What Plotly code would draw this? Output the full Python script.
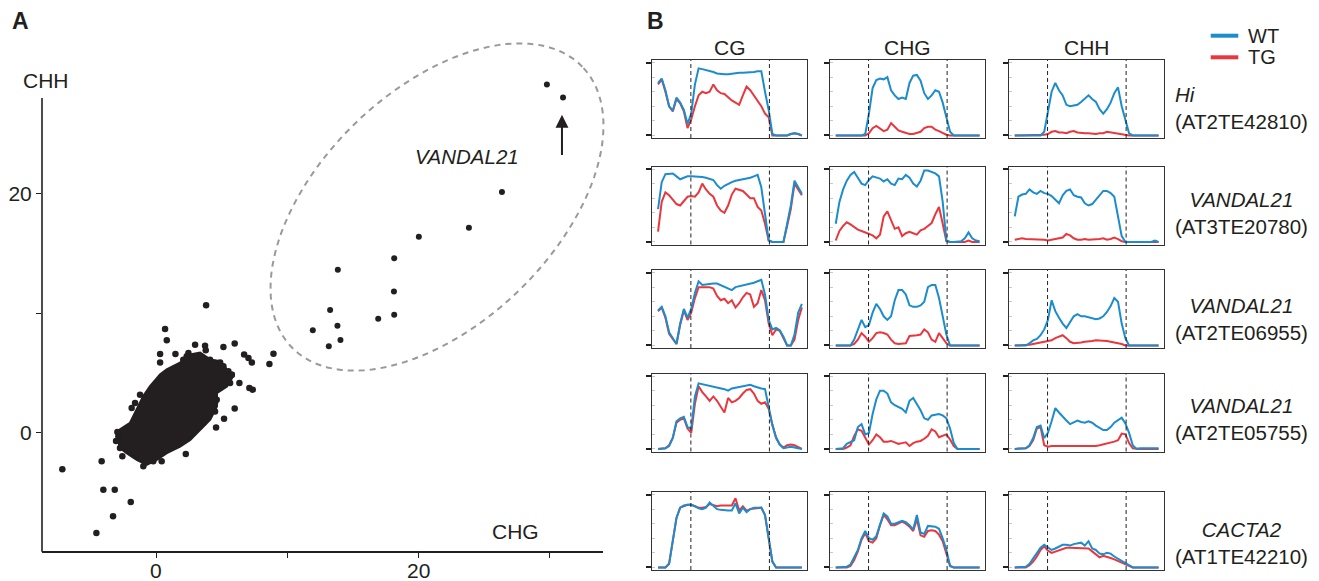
import numpy as np
import plotly.graph_objects as go

W, H = 1319, 581
FONT = "Liberation Sans, Arial, Helvetica, sans-serif"
INK = "#231f20"
BLUE = "#1c8ccc"
RED = "#e8373d"

# ---------------- Panel A data (CHG vs CHH) ----------------
# outline of the dense, saturated cloud of TEs
BLOB_X = [-3.00, -2.75, -1.98, -1.47, -0.97, -0.46, 0.31, 0.82, 1.83, 2.60, 3.36, 4.12, 4.89,
          5.40, 5.78, 5.40, 4.63, 4.63, 4.12, 3.36, 2.60, 1.83, 0.82, 0.05, -0.71, -1.47,
          -2.24, -2.88]
BLOB_Y = [-0.31, 0.25, 0.81, 1.92, 3.04, 3.87, 4.85, 5.27, 5.83, 6.53, 6.67, 6.11, 5.97,
          5.27, 4.58, 3.87, 3.32, 2.20, 1.09, 0.25, -0.59, -1.15, -1.70, -2.26, -2.68, -2.26,
          -1.70, -1.15]
# individual TEs around the cloud
CLOUD_X = [3.82, 0.69, 0.82, 0.31, 0.31, 1.48, 3.74, 3.79, 5.14, 6.00, 6.72, 7.05, 7.31, 8.96,
           8.65, 6.36, 7.12, 7.38, 6.00, 5.19, 4.58, 2.27, -4.15, -7.15, -4.02, -3.15, -1.93,
           -3.28, -4.55, -1.86, -1.60, -1.22, -2.87, -2.75, -2.57, -0.97, -0.21, 0.43, 4.63,
           4.50, 5.14, 5.78, 5.65, 2.98, 2.08, 2.34, 2.47, 4.12, 4.50, 4.89, 5.14, 5.52, 5.78,
           4.38, 4.50, 4.25, 3.99, 3.61, 3.36, -3.05, -2.95]
CLOUD_Y = [10.65, 8.68, 7.73, 6.59, 5.88, 6.59, 7.28, 6.89, 7.17, 7.45, 6.53, 6.25, 5.88, 6.61,
           5.75, 4.16, 3.74, 3.60, 2.03, 1.17, 0.44, -1.78, -2.40, -3.07, -4.77, -4.77, -5.80,
           -7.00, -8.40, 2.07, 2.49, 3.18, -0.31, -1.28, -1.98, -2.82, -2.40, -2.40, 2.76,
           1.78, 5.13, 4.85, 4.16, 7.36, 6.11, 6.39, 6.67, 6.11, 5.83, 5.88, 5.55, 5.13, 4.85,
           3.04, 2.49, 1.92, 1.36, 0.81, 0.53, -0.70, 0.05]
# VANDAL21 copies
VANDAL_X = [29.82, 31.05, 26.39, 23.87, 20.05, 18.17, 13.87, 18.15, 18.17, 16.95, 13.28,
            13.84, 11.96, 14.07, 13.18]
VANDAL_Y = [29.12, 28.03, 20.14, 17.15, 16.40, 14.59, 13.62, 11.80, 9.87, 9.54, 10.27,
            8.95, 8.56, 7.76, 7.22]
A_XTICKS = [0, 10, 20, 30]
A_XTICKTEXT = ["0", "", "20", ""]
A_YTICKS = [0, 10, 20]
A_YTICKTEXT = ["0", "", "20"]

# ---------------- Panel B data (metaplots, 40 bins) ----------------
BINS = [0, 1, 2, 3, 4, 5, 6, 7, 8, 9, 10, 11, 12, 13, 14, 15, 16, 17, 18, 19,
        20, 21, 22, 23, 24, 25, 26, 27, 28, 29, 30, 31, 32, 33, 34, 35, 36, 37, 38, 39]
TE_START, TE_END = 8.9, 30.2
CONTEXTS = ["CG", "CHG", "CHH"]
TE_NAMES = ["Hi", "VANDAL21", "VANDAL21", "VANDAL21", "CACTA2"]
TE_IDS = ["AT2TE42810", "AT3TE20780", "AT2TE06955", "AT2TE05755", "AT1TE42210"]

WT_HI_CG = [0.72, 0.78, 0.62, 0.40, 0.34, 0.52, 0.45, 0.35, 0.16, 0.30, 0.70, 0.92, 0.91, 0.90, 0.88, 0.87, 0.85, 0.84, 0.84, 0.84,
            0.85, 0.85, 0.86, 0.86, 0.86, 0.86, 0.87, 0.88, 0.88, 0.60, 0.35, 0.02, 0, 0, 0, 0, 0.02, 0.03, 0.02, 0]
TG_HI_CG = [0.70, 0.77, 0.60, 0.40, 0.33, 0.50, 0.44, 0.33, 0.10, 0.22, 0.40, 0.55, 0.60, 0.58, 0.60, 0.70, 0.62, 0.58, 0.57, 0.52,
            0.48, 0.45, 0.42, 0.55, 0.67, 0.62, 0.55, 0.48, 0.40, 0.30, 0.25, 0, 0, 0, 0, 0, 0.02, 0.03, 0.02, 0]
WT_HI_CHG = [0, 0, 0, 0, 0, 0, 0, 0, 0.02, 0.30, 0.65, 0.76, 0.78, 0.77, 0.80, 0.62, 0.55, 0.50, 0.52, 0.50,
             0.72, 0.82, 0.83, 0.75, 0.58, 0.50, 0.55, 0.62, 0.60, 0.45, 0.25, 0.05, 0, 0, 0, 0, 0, 0, 0, 0]
TG_HI_CHG = [0, 0, 0, 0, 0, 0, 0, 0, 0, 0.03, 0.10, 0.13, 0.10, 0.06, 0.08, 0.17, 0.12, 0.07, 0.05, 0.03,
             0.02, 0.02, 0.03, 0.05, 0.10, 0.12, 0.12, 0.08, 0.06, 0.03, 0.01, 0, 0, 0, 0, 0, 0, 0, 0, 0]
WT_HI_CHH = [0, 0, 0, 0, 0, 0, 0, 0, 0.05, 0.30, 0.60, 0.72, 0.62, 0.55, 0.42, 0.40, 0.41, 0.42, 0.46, 0.50,
             0.55, 0.50, 0.46, 0.36, 0.30, 0.36, 0.45, 0.58, 0.66, 0.40, 0.22, 0.03, 0, 0, 0, 0, 0, 0, 0, 0]
TG_HI_CHH = [0, 0, 0, 0, 0, 0, 0, 0, 0.01, 0.02, 0.05, 0.06, 0.04, 0.04, 0.03, 0.05, 0.06, 0.04, 0.03, 0.03,
             0.03, 0.02, 0.02, 0.03, 0.03, 0.05, 0.04, 0.03, 0.02, 0.01, 0, 0, 0, 0, 0, 0, 0, 0, 0, 0]

WT_V1_CG = [0.45, 0.82, 0.93, 0.94, 0.94, 0.90, 0.86, 0.88, 0.90, 0.90, 0.90, 0.90, 0.89, 0.88, 0.87, 0.85, 0.78, 0.73, 0.77, 0.80,
            0.82, 0.84, 0.85, 0.86, 0.87, 0.88, 0.90, 0.92, 0.75, 0.35, 0.02, 0, 0, 0, 0, 0.25, 0.50, 0.84, 0.74, 0.66]
TG_V1_CG = [0.14, 0.55, 0.68, 0.64, 0.58, 0.52, 0.50, 0.56, 0.62, 0.63, 0.62, 0.68, 0.80, 0.72, 0.66, 0.62, 0.50, 0.43, 0.40, 0.50,
            0.65, 0.73, 0.72, 0.70, 0.65, 0.60, 0.60, 0.48, 0.43, 0.25, 0.02, 0, 0, 0, 0, 0.22, 0.45, 0.80, 0.72, 0.64]
WT_V1_CHG = [0.25, 0.55, 0.72, 0.84, 0.92, 0.96, 0.88, 0.80, 0.78, 0.85, 0.90, 0.89, 0.87, 0.83, 0.86, 0.80, 0.78, 0.87, 0.86, 0.92,
             0.88, 0.80, 0.76, 0.84, 0.98, 0.98, 0.96, 0.94, 0.90, 0.55, 0.02, 0, 0, 0, 0.01, 0.05, 0.13, 0.05, 0.02, 0.01]
TG_V1_CHG = [0.02, 0.15, 0.22, 0.27, 0.24, 0.20, 0.17, 0.15, 0.13, 0.12, 0.09, 0.05, 0.10, 0.35, 0.42, 0.30, 0.18, 0.20, 0.08, 0.12,
             0.14, 0.12, 0.10, 0.16, 0.18, 0.22, 0.26, 0.38, 0.48, 0.25, 0.01, 0, 0, 0, 0, 0, 0.02, 0, 0, 0]
WT_V1_CHH = [0.35, 0.62, 0.65, 0.66, 0.72, 0.68, 0.66, 0.70, 0.67, 0.66, 0.63, 0.58, 0.53, 0.64, 0.70, 0.72, 0.64, 0.62, 0.61, 0.53,
             0.50, 0.52, 0.58, 0.63, 0.70, 0.70, 0.67, 0.62, 0.35, 0.08, 0, 0, 0, 0, 0, 0, 0, 0, 0.02, 0]
TG_V1_CHH = [0.03, 0.04, 0.05, 0.04, 0.04, 0.03, 0.03, 0.03, 0.03, 0.02, 0.03, 0.03, 0.04, 0.06, 0.11, 0.09, 0.05, 0.03, 0.03, 0.04,
             0.03, 0.03, 0.04, 0.04, 0.05, 0.03, 0.04, 0.06, 0.04, 0.01, 0, 0, 0, 0, 0, 0, 0, 0, 0, 0]

WT_V2_CG = [0.48, 0.53, 0.40, 0.18, 0.10, 0.02, 0.30, 0.50, 0.38, 0.50, 0.72, 0.88, 0.83, 0.84, 0.84, 0.85, 0.85, 0.83, 0.81, 0.78,
            0.76, 0.80, 0.81, 0.82, 0.83, 0.84, 0.86, 0.88, 0.90, 0.70, 0.35, 0.22, 0.24, 0.21, 0.12, 0, 0, 0.15, 0.45, 0.57]
TG_V2_CG = [0.47, 0.52, 0.38, 0.16, 0.09, 0.02, 0.28, 0.48, 0.35, 0.45, 0.65, 0.80, 0.80, 0.80, 0.80, 0.78, 0.68, 0.62, 0.64, 0.58,
            0.62, 0.52, 0.58, 0.66, 0.72, 0.70, 0.53, 0.58, 0.76, 0.62, 0.30, 0.14, 0.22, 0.20, 0.10, 0, 0, 0.08, 0.35, 0.52]
WT_V2_CHG = [0, 0, 0, 0, 0, 0.08, 0.22, 0.35, 0.25, 0.28, 0.45, 0.57, 0.50, 0.40, 0.35, 0.40, 0.62, 0.76, 0.76, 0.70,
             0.55, 0.53, 0.53, 0.55, 0.60, 0.80, 0.83, 0.83, 0.65, 0.42, 0.15, 0, 0, 0, 0, 0, 0, 0, 0, 0]
TG_V2_CHG = [0, 0, 0, 0, 0, 0.02, 0.08, 0.17, 0.12, 0.05, 0.10, 0.17, 0.18, 0.17, 0.15, 0.08, 0.03, 0.02, 0.02, 0.03,
             0.13, 0.13, 0.14, 0.15, 0.22, 0.18, 0.08, 0.05, 0.17, 0.10, 0.03, 0, 0, 0, 0, 0, 0, 0, 0, 0]
WT_V2_CHH = [0, 0, 0, 0, 0.03, 0.07, 0.09, 0.14, 0.22, 0.35, 0.62, 0.47, 0.38, 0.30, 0.24, 0.32, 0.40, 0.43, 0.40, 0.40,
             0.39, 0.38, 0.36, 0.37, 0.40, 0.46, 0.54, 0.65, 0.60, 0.30, 0.10, 0, 0, 0, 0, 0, 0, 0, 0, 0]
TG_V2_CHH = [0, 0, 0, 0, 0.01, 0.02, 0.03, 0.04, 0.05, 0.06, 0.07, 0.10, 0.12, 0.14, 0.10, 0.05, 0.03, 0.03, 0.04, 0.05,
             0.05, 0.06, 0.07, 0.07, 0.06, 0.06, 0.05, 0.04, 0.04, 0.02, 0, 0, 0, 0, 0, 0, 0, 0, 0, 0]

WT_V3_CG = [0, 0, 0.01, 0.04, 0.15, 0.38, 0.42, 0.44, 0.30, 0.28, 0.72, 0.90, 0.89, 0.88, 0.87, 0.86, 0.85, 0.83, 0.82, 0.80,
            0.83, 0.84, 0.85, 0.86, 0.87, 0.88, 0.86, 0.84, 0.83, 0.82, 0.55, 0.33, 0.15, 0.06, 0.01, 0.02, 0.03, 0.02, 0.01, 0]
TG_V3_CG = [0, 0, 0.01, 0.05, 0.15, 0.36, 0.40, 0.42, 0.28, 0.22, 0.62, 0.86, 0.78, 0.72, 0.66, 0.72, 0.66, 0.58, 0.50, 0.70,
            0.64, 0.66, 0.70, 0.76, 0.81, 0.82, 0.76, 0.66, 0.62, 0.64, 0.55, 0.33, 0.16, 0.06, 0.02, 0.05, 0.06, 0.05, 0.02, 0]
WT_V3_CHG = [0, 0, 0.01, 0.07, 0.10, 0.12, 0.30, 0.34, 0.20, 0.22, 0.48, 0.68, 0.80, 0.80, 0.76, 0.64, 0.60, 0.57, 0.55, 0.50,
             0.66, 0.70, 0.62, 0.53, 0.42, 0.40, 0.46, 0.47, 0.48, 0.46, 0.42, 0.28, 0.08, 0, 0, 0, 0, 0, 0, 0]
TG_V3_CHG = [0, 0, 0, 0.02, 0.05, 0.18, 0.27, 0.25, 0.15, 0.06, 0.12, 0.20, 0.16, 0.10, 0.10, 0.11, 0.09, 0.07, 0.08, 0.09,
             0.04, 0.08, 0.10, 0.11, 0.14, 0.18, 0.27, 0.24, 0.16, 0.18, 0.20, 0.13, 0.04, 0, 0, 0, 0, 0, 0, 0]
WT_V3_CHH = [0, 0, 0, 0.01, 0.05, 0.15, 0.30, 0.32, 0.15, 0.22, 0.38, 0.56, 0.50, 0.44, 0.39, 0.34, 0.37, 0.39, 0.37, 0.36,
             0.38, 0.36, 0.32, 0.29, 0.26, 0.26, 0.30, 0.36, 0.40, 0.43, 0.35, 0.22, 0.05, 0, 0.01, 0.01, 0.01, 0.01, 0.01, 0.01]
TG_V3_CHH = [0, 0, 0, 0.01, 0.04, 0.12, 0.28, 0.30, 0.05, 0.03, 0.04, 0.04, 0.04, 0.04, 0.04, 0.03, 0.03, 0.03, 0.03, 0.03,
             0.04, 0.04, 0.04, 0.05, 0.06, 0.07, 0.09, 0.10, 0.12, 0.21, 0.20, 0.08, 0.01, 0, 0, 0, 0, 0, 0, 0]

WT_CA_CG = [0, 0, 0, 0.05, 0.35, 0.68, 0.82, 0.85, 0.86, 0.86, 0.84, 0.81, 0.80, 0.82, 0.89, 0.84, 0.80, 0.79, 0.78, 0.78,
            0.78, 0.88, 0.74, 0.82, 0.76, 0.80, 0.82, 0.82, 0.82, 0.72, 0.43, 0.08, 0, 0, 0, 0, 0, 0, 0, 0]
TG_CA_CG = [0, 0, 0, 0.05, 0.35, 0.68, 0.82, 0.84, 0.86, 0.86, 0.84, 0.82, 0.82, 0.83, 0.87, 0.85, 0.84, 0.85, 0.85, 0.86,
            0.85, 0.95, 0.78, 0.84, 0.78, 0.80, 0.81, 0.82, 0.82, 0.72, 0.43, 0.08, 0, 0, 0, 0, 0, 0, 0, 0]
WT_CA_CHG = [0, 0, 0, 0.01, 0.04, 0.13, 0.24, 0.40, 0.50, 0.40, 0.38, 0.43, 0.60, 0.74, 0.70, 0.60, 0.60, 0.62, 0.64, 0.62,
             0.58, 0.52, 0.72, 0.48, 0.46, 0.57, 0.57, 0.56, 0.53, 0.40, 0.24, 0.02, 0, 0, 0, 0, 0, 0, 0, 0]
TG_CA_CHG = [0, 0, 0, 0, 0.02, 0.10, 0.22, 0.38, 0.47, 0.36, 0.34, 0.40, 0.58, 0.72, 0.66, 0.58, 0.58, 0.61, 0.63, 0.60,
             0.56, 0.50, 0.66, 0.44, 0.42, 0.50, 0.51, 0.50, 0.45, 0.36, 0.20, 0.02, 0, 0, 0, 0, 0, 0, 0, 0]
WT_CA_CHH = [0, 0, 0, 0.01, 0.05, 0.12, 0.19, 0.27, 0.31, 0.28, 0.24, 0.26, 0.28, 0.31, 0.31, 0.30, 0.32, 0.33, 0.34, 0.30,
             0.36, 0.26, 0.24, 0.19, 0.18, 0.20, 0.19, 0.15, 0.12, 0.09, 0.06, 0.02, 0, 0, 0, 0, 0, 0, 0, 0]
TG_CA_CHH = [0, 0, 0, 0, 0.03, 0.08, 0.15, 0.24, 0.29, 0.23, 0.20, 0.22, 0.24, 0.26, 0.27, 0.27, 0.27, 0.26, 0.27, 0.26,
             0.26, 0.22, 0.18, 0.14, 0.16, 0.15, 0.13, 0.11, 0.09, 0.07, 0.05, 0.02, 0, 0, 0, 0, 0, 0, 0, 0]

WT_ROWS = [[WT_HI_CG, WT_HI_CHG, WT_HI_CHH], [WT_V1_CG, WT_V1_CHG, WT_V1_CHH],
           [WT_V2_CG, WT_V2_CHG, WT_V2_CHH], [WT_V3_CG, WT_V3_CHG, WT_V3_CHH],
           [WT_CA_CG, WT_CA_CHG, WT_CA_CHH]]
TG_ROWS = [[TG_HI_CG, TG_HI_CHG, TG_HI_CHH], [TG_V1_CG, TG_V1_CHG, TG_V1_CHH],
           [TG_V2_CG, TG_V2_CHG, TG_V2_CHH], [TG_V3_CG, TG_V3_CHG, TG_V3_CHH],
           [TG_CA_CG, TG_CA_CHG, TG_CA_CHH]]

# ---------------- layout geometry (pixels) ----------------
A_LEFT, A_RIGHT, A_LINE_TOP, A_BOTTOM = 42, 603, 98, 551
A_PLOT_TOP = 70                      # plot area reaches above the axis line
A_XLABEL_Y = 570
A_XRANGE = [-8.7, 34.1]
A_YRANGE = [-9.9, 30.34]
B_COL_LEFT = [652.3, 830, 1009]
B_W = 155
B_ROW_TOP = [60, 166.5, 270, 373.5, 492]
B_H = 78
B_XRANGE = [-1.555, 40.47]
B_YRANGE = [-0.035, 1.035]
ROW_LABEL_X = 1241
ROW_LABEL_Y = [107.5, 213, 319, 419, 543]


def fx(p):
    return p / W


def fy(p):
    return 1 - p / H


def txt(x, y, text, size=21, xanchor="center", yanchor="middle", align="center"):
    return dict(x=fx(x), y=fy(y), xref="paper", yref="paper", text=text, showarrow=False,
                xanchor=xanchor, yanchor=yanchor, align=align,
                font=dict(size=size, color=INK, family=FONT))


fig = go.Figure()
layout = {}

# ---------------- Panel A ----------------
fig.add_trace(go.Scatter(x=BLOB_X, y=BLOB_Y, mode="lines", fill="toself", fillcolor=INK,
                         line=dict(color=INK, width=2.5), hoverinfo="skip",
                         showlegend=False, xaxis="x", yaxis="y"))
fig.add_trace(go.Scatter(x=CLOUD_X, y=CLOUD_Y, mode="markers",
                         marker=dict(size=6.5, color=INK, line=dict(width=0)),
                         showlegend=False, xaxis="x", yaxis="y"))
fig.add_trace(go.Scatter(x=VANDAL_X, y=VANDAL_Y, mode="markers",
                         marker=dict(size=6, color=INK, line=dict(width=0)),
                         showlegend=False, xaxis="x", yaxis="y"))

layout["xaxis"] = dict(domain=[fx(A_LEFT), fx(A_RIGHT)], range=A_XRANGE, anchor="y",
                       showline=True, linecolor=INK, linewidth=1.6, ticks="outside",
                       ticklen=5, tickwidth=1.4, tickcolor=INK, tickvals=A_XTICKS,
                       showticklabels=False,
                       showgrid=False, zeroline=False, automargin=False)
layout["yaxis"] = dict(domain=[fy(A_BOTTOM), fy(A_PLOT_TOP)], range=A_YRANGE, anchor="x",
                       showline=False, ticks="outside",
                       ticklen=5, tickwidth=1.4, tickcolor=INK, tickvals=A_YTICKS,
                       ticktext=A_YTICKTEXT, tickfont=dict(size=21, color=INK, family=FONT),
                       showgrid=False, zeroline=False, automargin=False)

shapes = []
annotations = []

# x tick labels of panel A (placed just under the axis)
for v, lab in zip(A_XTICKS, A_XTICKTEXT):
    if lab:
        annotations.append(dict(x=v, y=fy(A_XLABEL_Y), xref="x", yref="paper", text=lab,
                                showarrow=False, xanchor="center", yanchor="middle",
                                font=dict(size=21, color=INK, family=FONT)))

# left axis line of panel A (stops below the top VANDAL21 points)
shapes.append(dict(type="line", xref="paper", yref="paper", x0=fx(A_LEFT), x1=fx(A_LEFT),
                   y0=fy(A_BOTTOM + 0.8), y1=fy(A_LINE_TOP), line=dict(color=INK, width=1.6)))

# dashed ellipse around VANDAL21 points (pixel geometry)
cx, cy, ea, eb, phi = 437, 207, 202, 117, np.deg2rad(44)
t = np.linspace(0, 2 * np.pi, 120)
ex = cx + ea * np.cos(t) * np.cos(phi) - eb * np.sin(t) * np.sin(phi)
ey = cy - (ea * np.cos(t) * np.sin(phi) + eb * np.sin(t) * np.cos(phi))
path = "M " + " L ".join(f"{fx(a):.5f},{fy(b):.5f}" for a, b in zip(ex, ey)) + " Z"
shapes.append(dict(type="path", path=path, xref="paper", yref="paper",
                   line=dict(color="#9a9a9a", width=2, dash="6px,5px")))

annotations.append(dict(x=30.97, y=26.6, ax=30.97, ay=23.1, xref="x", yref="y",
                        axref="x", ayref="y", text="", showarrow=True, arrowhead=2,
                        arrowsize=1.3, arrowwidth=2, arrowcolor=INK))
annotations.append(dict(x=23.72, y=23.12, xref="x", yref="y", text="<i>VANDAL21</i>",
                        xanchor="center", yanchor="middle", showarrow=False,
                        font=dict(size=20.5, color=INK, family=FONT)))
annotations.append(txt(46, 80, "CHH"))
annotations.append(txt(515, 531, "CHG"))
annotations.append(txt(20, 21, "<b>A</b>", size=23))
annotations.append(txt(655, 21, "<b>B</b>", size=23))

# ---------------- Panel B ----------------
for r in range(5):
    for c in range(3):
        k = 2 + r * 3 + c
        xa, ya = f"x{k}", f"y{k}"
        fig.add_trace(go.Scatter(x=BINS, y=TG_ROWS[r][c], mode="lines",
                                 line=dict(color=RED, width=2), showlegend=False,
                                 xaxis=xa, yaxis=ya))
        fig.add_trace(go.Scatter(x=BINS, y=WT_ROWS[r][c], mode="lines",
                                 line=dict(color=BLUE, width=2), showlegend=False,
                                 xaxis=xa, yaxis=ya))
        left = B_COL_LEFT[c]
        top = B_ROW_TOP[r]
        layout[f"xaxis{k}"] = dict(domain=[fx(left), fx(left + B_W)], range=B_XRANGE,
                                   anchor=ya, showline=True, mirror=True, linecolor="#333",
                                   linewidth=1, ticks="", showticklabels=False,
                                   showgrid=False, zeroline=False, automargin=False)
        layout[f"yaxis{k}"] = dict(domain=[fy(top + B_H), fy(top)], range=B_YRANGE,
                                   anchor=xa, showline=True, mirror=True, linecolor="#333",
                                   linewidth=1, ticks="outside", tickvals=[0, 1], ticklen=5,
                                   tickwidth=1.5, tickcolor=INK, showticklabels=False,
                                   showgrid=False, zeroline=False, automargin=False,
                                   minor=dict(dtick=0.2, tick0=0, ticks="inside", ticklen=3,
                                              tickcolor="#c8c8c8", tickwidth=1, showgrid=False))
        for xb in (TE_START, TE_END):
            shapes.append(dict(type="line", xref=xa, yref=f"{ya} domain", x0=xb, x1=xb,
                               y0=0, y1=1, line=dict(color="#222", width=1, dash="4px,3px")))

for c, name in enumerate(CONTEXTS):
    annotations.append(txt(B_COL_LEFT[c] + B_W / 2, 48, name))

for r in range(5):
    annotations.append(txt(ROW_LABEL_X, ROW_LABEL_Y[r],
                           f"<i>{TE_NAMES[r]}</i><br>({TE_IDS[r]})", size=20.5,
                           align="left" if r == 0 else "center"))

# legend (drawn manually)
for label, color, yy in (("WT", BLUE, 35.7), ("TG", RED, 57.3)):
    shapes.append(dict(type="line", xref="paper", yref="paper", x0=fx(1210.7), x1=fx(1238.3),
                       y0=fy(yy), y1=fy(yy), line=dict(color=color, width=4)))
    annotations.append(txt(1246, yy, label, size=20, xanchor="left"))

fig.update_layout(width=W, height=H, margin=dict(l=0, r=0, t=0, b=0),
                  paper_bgcolor="white", plot_bgcolor="white", showlegend=False,
                  font=dict(family=FONT, color=INK), shapes=shapes, annotations=annotations,
                  **layout)

fig.write_html("out.html", config={"displayModeBar": False},
               post_script="document.body.style.margin='0';document.body.style.overflow='hidden';")
